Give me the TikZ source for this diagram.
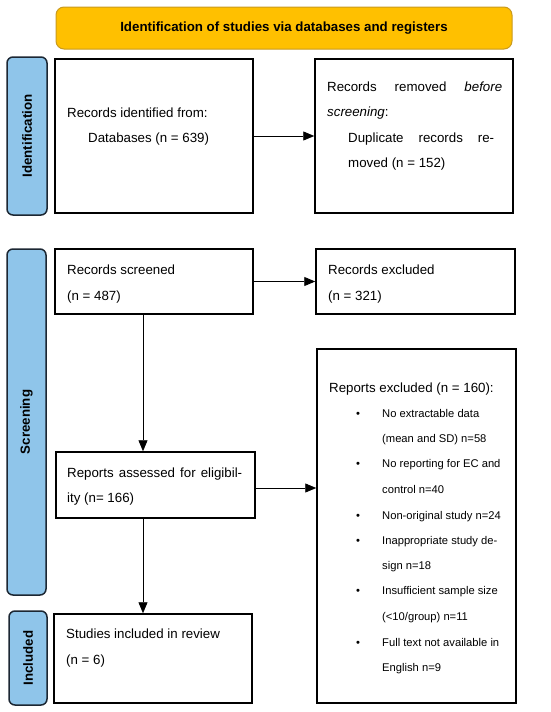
\documentclass[tikz,border=0pt]{standalone}
\usepackage{fontspec}
\setmainfont{Liberation Sans}
\usetikzlibrary{arrows.meta}
\definecolor{bannerfill}{HTML}{FFC000}
\definecolor{bannerdraw}{HTML}{C99A1E}
\definecolor{sidefill}{HTML}{8FC5EA}
\definecolor{sidedraw}{HTML}{1C2733}
\begin{document}
\begin{tikzpicture}[x=1pt,y=-1pt,
  box/.style={draw=black, line width=1.5pt, inner sep=0pt},
  txt/.style={anchor=base west, inner sep=0pt, font=\fontsize{13.3}{16}\selectfont},
  btxt/.style={anchor=base west, inner sep=0pt, font=\fontsize{11.2}{14}\selectfont},
  bul/.style={anchor=base, inner sep=0pt, font=\fontsize{11.2}{14}\selectfont},
  side/.style={draw=sidedraw, fill=sidefill, rounded corners=6pt, line width=1.5pt, inner sep=0pt},
  sidetxt/.style={rotate=90, inner sep=0pt, font=\fontsize{13.3}{16}\selectfont\bfseries},
  arr/.style={-{Triangle[length=11pt,width=9pt]}, line width=0.9pt}]
\useasboundingbox (0,0) rectangle (550,712);

% banner
\node[draw=bannerdraw, fill=bannerfill, rounded corners=8pt, line width=1pt,
      minimum width=456pt, minimum height=42pt, inner sep=0pt,
      font=\fontsize{13.3}{16}\selectfont\bfseries] (banner) at (284,28)
      {Identification of studies via databases and registers};

% side labels
\node[side, minimum width=40pt, minimum height=158pt] (sid) at (27,136) {};
\node[sidetxt] (sidt) at (sid.center) {Identification};
\node[side, minimum width=39pt, minimum height=346pt] (ssc) at (26.5,422) {};
\node[sidetxt] (ssct) at (ssc.center) {Screening};
\node[side, minimum width=38pt, minimum height=94pt] (sin) at (28,658) {};
\node[sidetxt] (sint) at (sin.center) {Included};

% boxes
\node[box, minimum width=198pt, minimum height=154pt] (b1) at (154,136) {};
\node[box, minimum width=198pt, minimum height=154pt] (b2) at (414,136) {};
\node[box, minimum width=198pt, minimum height=65pt] (rs) at (154,281.5) {};
\node[box, minimum width=199pt, minimum height=65pt] (rx) at (415.5,281.5) {};
\node[box, minimum width=199pt, minimum height=66pt] (ra) at (155.5,485) {};
\node[box, minimum width=199pt, minimum height=354pt] (re) at (416.5,526) {};
\node[box, minimum width=198pt, minimum height=89pt] (st) at (153,658.5) {};

% texts box1
\node[txt] (t1a) at (67,117) {Records identified from:};
\node[txt] (t1b) at (88,142) {Databases (n = 639)};
% box2
\node[txt] (t2a) at (327,91) {\makebox[175pt][s]{Records removed \textit{before}}};
\node[txt] (t2b) at (327,116) {\textit{screening}:};
\node[txt] (t2c) at (348,142) {\makebox[146pt][s]{Duplicate records re-}};
\node[txt] (t2d) at (348,167) {moved (n = 152)};
% screened
\node[txt] (t3a) at (67,274) {Records screened};
\node[txt] (t3b) at (67,300) {(n = 487)};
% excluded
\node[txt] (t4a) at (328,274) {Records excluded};
\node[txt] (t4b) at (328,300) {(n = 321)};
% assessed
\node[txt] (t5a) at (67,477) {\makebox[175pt][s]{Reports assessed for eligibil-}};
\node[txt] (t5b) at (67,502) {ity (n= 166)};
% studies
\node[txt] (t6a) at (66,638) {Studies included in review};
\node[txt] (t6b) at (66,664) {(n = 6)};
% reports excluded
\node[txt] (t7) at (329,392) {Reports excluded (n = 160):};
\node[btxt] (l1) at (382,417) {No extractable data};
\node[btxt] (l2) at (382,442) {(mean and SD) n=58};
\node[btxt] (l3) at (382,467) {No reporting for EC and};
\node[btxt] (l4) at (382,493) {control n=40};
\node[btxt] (l5) at (382,519) {Non-original study n=24};
\node[btxt] (l6) at (382,544) {Inappropriate study de-};
\node[btxt] (l7) at (382,569) {sign n=18};
\node[btxt] (l8) at (382,594) {Insufficient sample size};
\node[btxt] (l9) at (382,620) {(<10/group) n=11};
\node[btxt] (l10) at (382,646) {Full text not available in};
\node[btxt] (l11) at (382,671) {English n=9};
\foreach \y/\n in {417/1,467/2,519/3,544/4,594/5,646/6}
  \node[bul] (bu\n) at (358,\y) {\textbullet};

% arrows
\draw[arr] (b1.east) -- (b2.west);
\draw[arr] (rs.east) -- (rx.west);
\draw[arr] ([yshift=-3pt]ra.east) -- ([yshift=-3pt]ra.east -| re.west);
\draw[arr] ([xshift=-11pt]rs.south) -- ([xshift=-11pt]rs.south |- ra.north);
\draw[arr] ([xshift=-12.5pt]ra.south) -- ([xshift=-12.5pt]ra.south |- st.north);
\end{tikzpicture}
\end{document}
